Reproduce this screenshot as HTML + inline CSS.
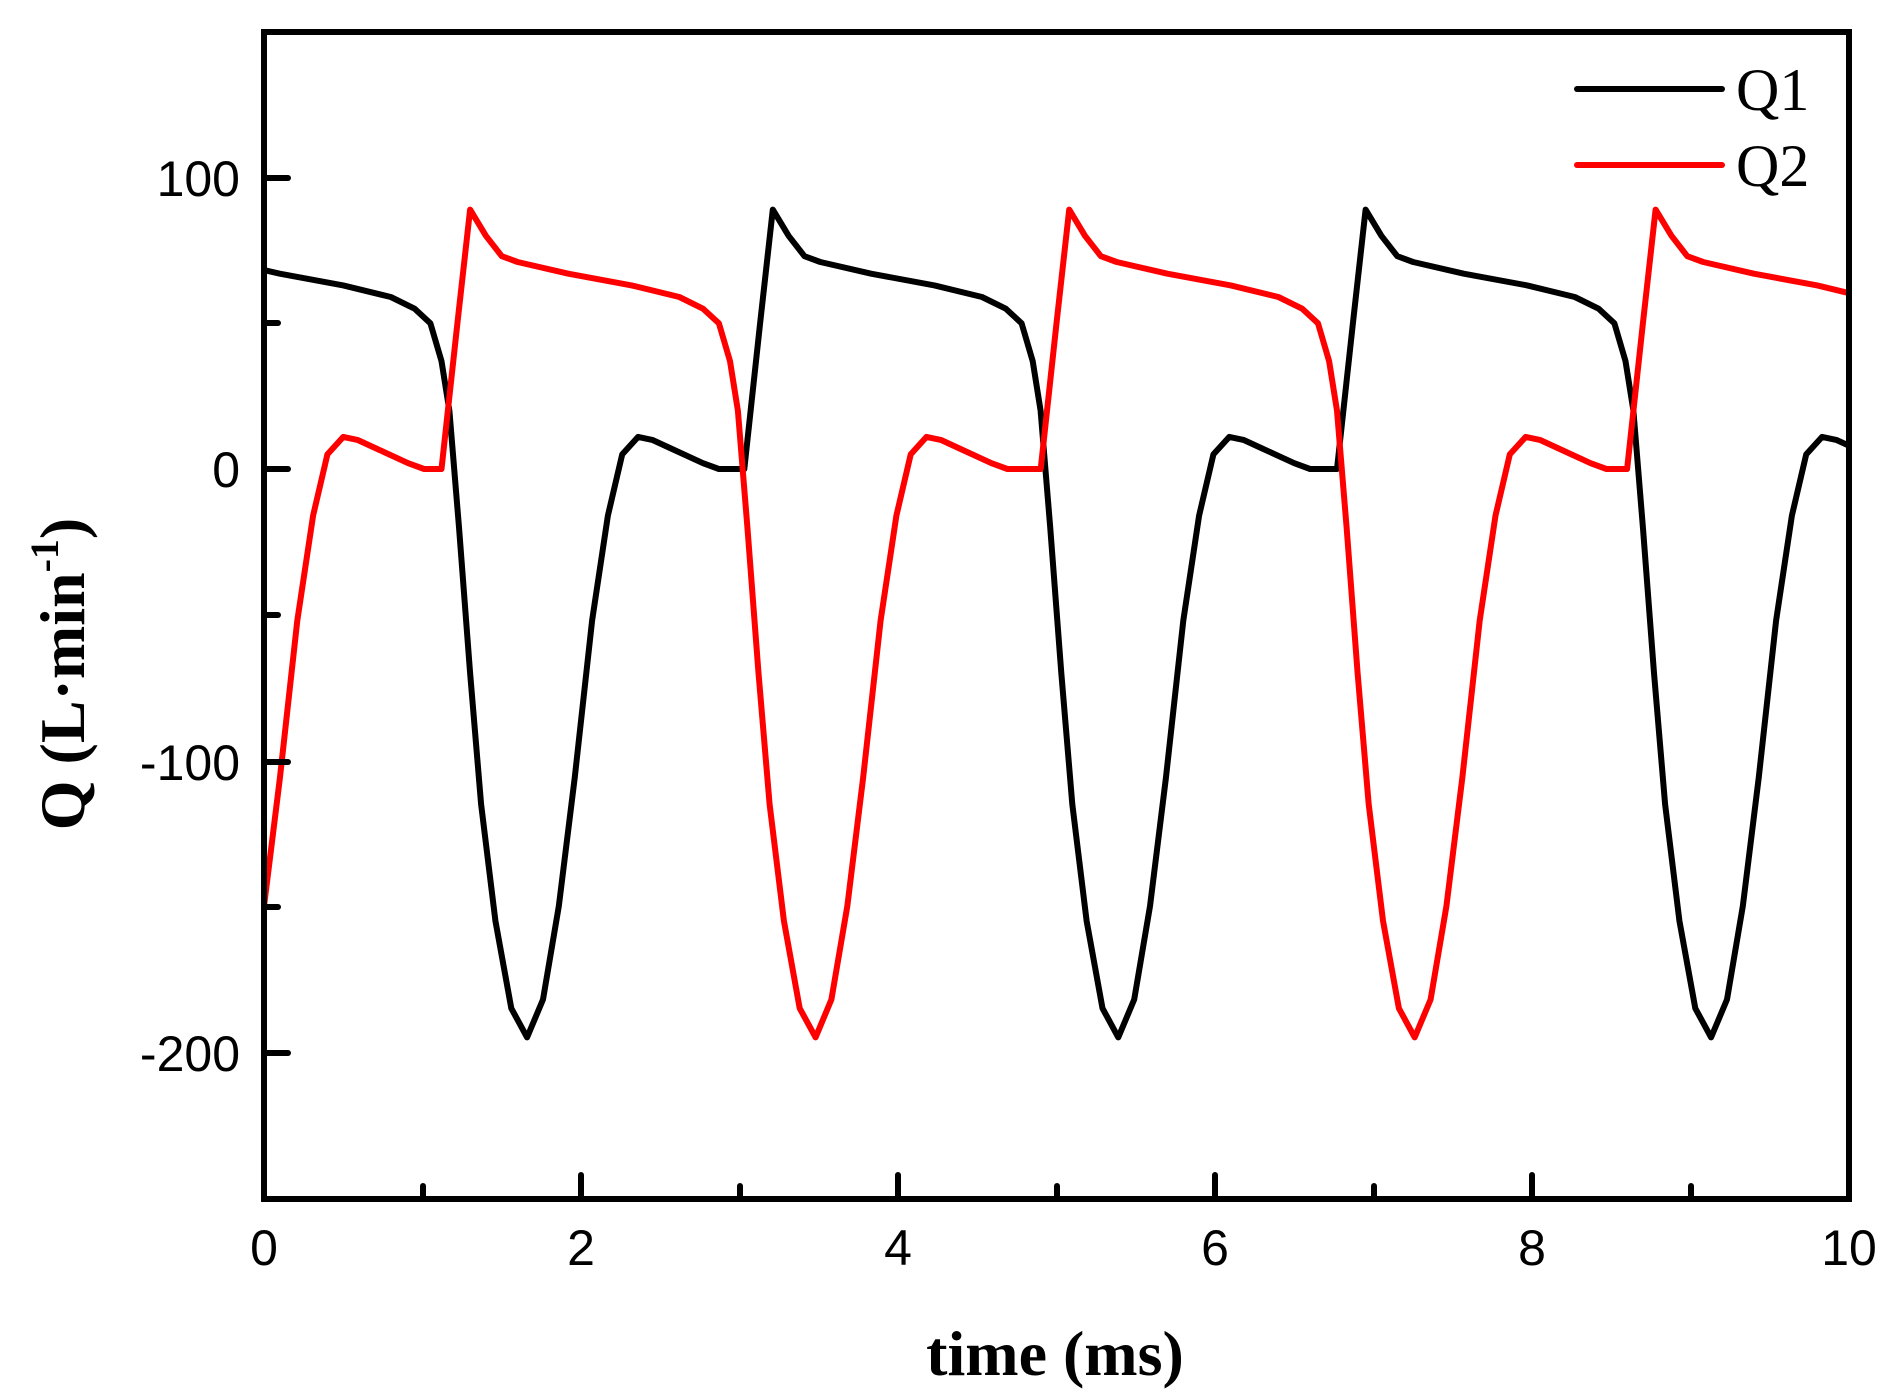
<!DOCTYPE html>
<html><head><meta charset="utf-8"><style>
html,body{margin:0;padding:0;background:#fff;}
svg{display:block;}
</style></head><body>
<svg id="s" width="1903" height="1397" viewBox="0 0 1903 1397" xmlns="http://www.w3.org/2000/svg">
<defs><clipPath id="c"><rect x="264" y="32" width="1585" height="1167"/></clipPath></defs>
<rect x="0" y="0" width="1903" height="1397" fill="#fff"/>
<g clip-path="url(#c)" fill="none" stroke-width="6" stroke-linejoin="round">
<path id="q1" stroke="#000" d=""/>
<path id="q2" stroke="#ff0000" d=""/>
</g>
<rect x="264" y="32" width="1585" height="1167" fill="none" stroke="#000" stroke-width="6"/>
<g stroke="#000" stroke-width="6" stroke-linecap="round">
<line x1="264" y1="178" x2="288" y2="178"/>
<line x1="264" y1="323" x2="278" y2="323"/>
<line x1="264" y1="469" x2="288" y2="469"/>
<line x1="264" y1="615" x2="278" y2="615"/>
<line x1="264" y1="762" x2="288" y2="762"/>
<line x1="264" y1="907" x2="278" y2="907"/>
<line x1="264" y1="1053" x2="288" y2="1053"/>
<line x1="423" y1="1199" x2="423" y2="1186"/>
<line x1="581" y1="1199" x2="581" y2="1175"/>
<line x1="740" y1="1199" x2="740" y2="1186"/>
<line x1="898" y1="1199" x2="898" y2="1175"/>
<line x1="1057" y1="1199" x2="1057" y2="1186"/>
<line x1="1215" y1="1199" x2="1215" y2="1175"/>
<line x1="1374" y1="1199" x2="1374" y2="1186"/>
<line x1="1532" y1="1199" x2="1532" y2="1175"/>
<line x1="1691" y1="1199" x2="1691" y2="1186"/>
</g>
<g font-family="Liberation Sans, sans-serif" font-size="50" fill="#000">
<g text-anchor="end">
<text x="240" y="196">100</text>
<text x="240" y="487">0</text>
<text x="240" y="780">-100</text>
<text x="240" y="1071">-200</text>
</g>
<g text-anchor="middle">
<text x="264" y="1265">0</text>
<text x="581" y="1265">2</text>
<text x="898" y="1265">4</text>
<text x="1215" y="1265">6</text>
<text x="1532" y="1265">8</text>
<text x="1849" y="1265">10</text>
</g>
</g>
<line x1="1577" y1="89" x2="1722" y2="89" stroke="#000" stroke-width="6" stroke-linecap="round"/>
<line x1="1577" y1="165" x2="1722" y2="165" stroke="#ff0000" stroke-width="6" stroke-linecap="round"/>
<g font-family="Liberation Serif, serif" font-size="60" fill="#000">
<text x="1736" y="110">Q1</text>
<text x="1736" y="186">Q2</text>
</g>
<text x="1055" y="1375" text-anchor="middle" font-family="Liberation Serif, serif" font-weight="bold" font-size="64">time (ms)</text>
<text transform="translate(84,674) rotate(-90)" text-anchor="middle" font-family="Liberation Serif, serif" font-weight="bold" font-size="64">Q (L·min<tspan font-size="40" dy="-26">-1</tspan><tspan dy="26">)</tspan></text>
</svg>
<script>
var T=[[-1.9,0],[-1.8,50],[-1.72,89],[-1.62,80],[-1.52,73],[-1.42,71],[-1.1,67],[-0.7,63],[-0.4,59],[-0.25,55],[-0.15,50],[-0.08,37],[-0.03,20],[0.03,-20],[0.1,-70],[0.17,-115],[0.26,-155],[0.36,-185],[0.46,-195],[0.56,-182],[0.66,-150],[0.76,-106],[0.87,-52],[0.97,-16],[1.06,5],[1.16,11],[1.25,10],[1.37,7],[1.57,2],[1.67,0],[1.8,0]];
function X(t){return 264+158.5*t;}
function Y(v){return 469-2.915*v;}
function build(tz){
 var pts=[];
 for(var i=0;i<tz.length;i++){
  var lim=(i<tz.length-1)?Math.min(1.8,tz[i+1]-tz[i]-1.9):1.8;
  for(var j=0;j<T.length;j++){
   if(T[j][0]<=lim+1e-9) pts.push([tz[i]+T[j][0],T[j][1]]);
  }
 }
 var d="";
 for(var k=0;k<pts.length;k++){d+=(k?"L":"M")+X(pts[k][0]).toFixed(1)+" "+Y(pts[k][1]).toFixed(1);}
 return d;
}
document.getElementById("q1").setAttribute("d",build([-2.53,1.2,4.93,8.67,12.4]));
document.getElementById("q2").setAttribute("d",build([-0.66,3.02,6.8,10.5]));
</script>
</body></html>
